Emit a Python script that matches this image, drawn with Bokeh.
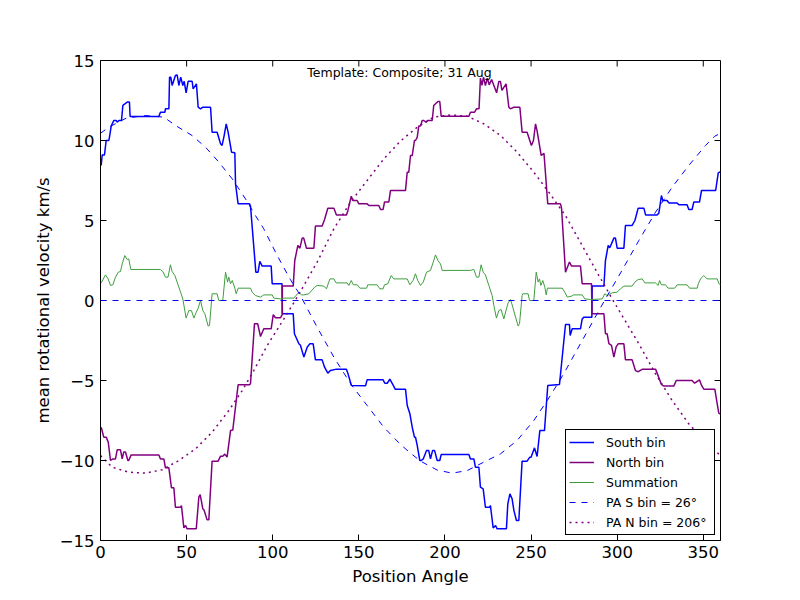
from bokeh.plotting import figure
from bokeh.models import Range1d, FixedTicker, Span, Label, Legend, LegendItem
from bokeh.embed import file_html
from bokeh.resources import INLINE

# ---------------- data ----------------
south_pa = [0.4, 1.0, 2.3, 3.3, 4.8, 5.2, 6.2, 7.7, 9.1, 9.7, 10.7, 12.2, 13.0, 15.5, 16.8, 17.2,
            33.9, 34.8, 37.4, 37.7, 39.7, 40.1, 40.8, 41.6, 43.5, 44.5, 45.5, 46.6, 47.8, 48.6,
            49.7, 50.9, 53.2, 53.8, 55.7, 56.7, 58.1, 59.4, 63.9, 64.8, 67.7, 69.7, 70.6, 71.8,
            73.0, 74.1, 76.1, 78.0, 78.4, 79.9, 86.5, 87.1, 90.2, 91.5, 92.5, 93.9, 99.1, 99.7,
            105.4, 105.6, 111.9, 112.6, 115.2, 116.1, 118.1, 120.0, 121.5, 123.5, 124.8, 128.7,
            130.1, 132.0, 133.5, 137.0, 142.8, 143.6, 145.7, 153.9, 154.8, 164.1, 165.1, 166.5,
            168.0, 170.0, 171.1, 177.1, 178.1, 179.6, 181.0, 182.3, 182.9, 183.9, 185.4, 186.2,
            187.4, 189.3, 190.6, 191.6, 192.8, 194.0, 195.5, 197.0, 197.8, 213.9, 214.8, 216.8,
            217.7, 219.7, 220.6, 222.2, 223.5, 226.0, 226.4, 228.0, 229.4, 230.3, 235.7, 236.5,
            237.7, 239.0, 240.0, 241.5, 242.9, 244.8, 247.7, 249.3, 250.0, 252.0, 253.5, 255.1,
            257.8, 259.7, 266.5, 270.0, 272.3, 272.7, 273.9, 278.7, 279.7, 280.6, 285.3, 285.5,
            292.3, 293.2, 294.8, 295.7, 298.1, 299.0, 300.0, 303.9, 304.8, 308.7, 310.3, 312.2,
            315.5, 316.5, 323.2, 324.2, 325.7, 326.5, 329.0, 330.0, 334.8, 335.8, 340.6, 341.6,
            343.5, 344.5, 347.8, 349.0, 357.2, 358.7, 360.0]
south_vel = [8.44, 9.1, 9.1, 10.0, 10.0, 10.2, 10.9, 11.25, 11.25, 11.15, 11.25, 11.25, 12.2, 12.4, 12.4, 11.5,
             11.5, 11.77, 11.77, 11.98, 11.98, 13.96, 13.96, 13.44, 14.06, 14.1, 13.44, 13.96, 13.44, 13.7,
             12.98, 13.7, 13.7, 13.23, 13.54, 12.08, 11.98, 12.08, 12.08, 10.52, 10.52, 9.8, 9.69, 10.31,
             11.04, 10.52, 9.27, 9.23, 7.29, 6.04, 6.04, 5.9, 1.77, 1.77, 2.44, 2.15, 2.15, 1.04,
             1.04, -0.83, -0.83, -2.08, -2.7, -2.8, -3.54, -2.92, -2.71, -2.71, -3.71, -3.71,
             -4.17, -4.54, -4.38, -4.29, -4.29, -4.54, -5.31, -5.33, -4.96, -4.96, -5.17, -5.17,
             -4.92, -5.31, -5.54, -5.54, -6.56, -7.06, -7.92, -8.54, -8.54, -9.06, -10.0, -10.0,
             -9.9, -9.38, -9.38, -9.9, -9.38, -9.38, -10.0, -10.0, -9.63, -9.63, -9.9, -9.9,
             -10.42, -10.42, -11.67, -11.77, -12.92, -12.92, -12.81, -14.21, -14.06, -14.27, -14.27, -12.71,
             -12.08, -12.4, -13.1, -13.75, -13.75, -10.04, -10.04, -9.79, -9.79, -9.21, -9.75, -8.13,
             -8.13, -5.31, -5.25, -1.5, -1.5, -2.19, -1.77, -1.77, -1.15, -1.04, -1.04, 0.9,
             0.9, 2.5, 3.44, 3.3, 3.9, 3.9, 3.27, 3.27, 4.69, 4.69, 5.0, 5.77,
             5.77, 5.35, 5.35, 5.46, 6.56, 6.25, 6.25, 6.1, 6.1, 5.98, 5.98, 5.69,
             5.69, 6.15, 6.15, 6.88, 6.88, 7.98, 8.05]

north_pa = [0.4, 1.9, 3.3, 4.5, 5.8, 7.2, 8.7, 9.7, 11.6, 12.6, 13.5, 14.5, 15.9, 16.4, 17.8, 33.9,
            34.8, 36.8, 37.7, 39.7, 41.2, 42.6, 43.5, 46.5, 47.0, 48.4, 49.4, 50.3, 55.6, 57.1,
            57.9, 59.4, 60.1, 61.9, 62.9, 64.8, 68.3, 69.7, 71.0, 72.2, 73.5, 75.5, 76.8, 79.9,
            86.5, 87.1, 89.4, 91.3, 92.9, 94.8, 99.1, 100.3, 101.6, 104.5, 105.5, 105.6, 111.9,
            112.8, 114.6, 115.8, 117.1, 118.0, 119.6, 123.9, 124.8, 128.7, 130.1, 132.0, 135.5,
            137.0, 142.8, 143.6, 145.6, 146.5, 149.0, 150.0, 154.8, 155.8, 161.6, 162.6, 164.1,
            164.9, 167.4, 168.4, 177.1, 178.1, 179.0, 180.0, 181.0, 182.3, 182.9, 183.9, 184.8,
            185.8, 186.8, 187.7, 189.0, 190.0, 192.6, 193.5, 195.9, 197.0, 197.8, 213.9, 214.8,
            217.2, 218.3, 219.8, 220.6, 221.5, 222.4, 223.5, 224.6, 225.7, 227.1, 230.0, 231.3,
            232.2, 233.1, 235.5, 237.1, 238.0, 240.0, 243.5, 244.8, 247.7, 250.2, 251.4, 252.6,
            253.5, 255.9, 257.5, 259.7, 267.1, 267.7, 270.0, 272.3, 273.5, 278.7, 279.7, 285.1,
            285.4, 292.3, 293.2, 294.2, 295.2, 296.7, 298.1, 299.4, 300.6, 303.9, 304.8, 308.7,
            310.6, 312.2, 314.8, 322.3, 323.2, 325.7, 327.1, 332.9, 334.3, 343.5, 345.0, 347.8,
            349.0, 350.3, 356.7, 358.1, 359.0, 360.0]
north_vel = [-7.92, -8.54, -8.54, -8.85, -10.0, -9.9, -9.9, -9.33, -9.33, -9.9, -9.47, -9.47, -10.0, -10.0, -9.65, -9.65,
             -9.9, -9.9, -10.46, -10.46, -11.71, -11.71, -12.92, -12.92, -12.81, -14.21, -14.06, -14.27, -14.27, -12.29,
             -12.13, -13.02, -13.1, -13.71, -13.71, -10.04, -10.04, -9.73, -9.73, -9.6, -9.79, -8.13, -8.1, -5.27,
             -5.27, -5.2, -1.46, -1.46, -2.25, -1.77, -1.77, -0.88, -1.08, -1.08, -0.88, 0.9, 0.9,
             2.5, 3.44, 3.27, 3.9, 3.9, 3.27, 3.27, 4.65, 4.65, 5.06, 5.77, 5.77,
             5.35, 5.35, 5.6, 6.52, 6.25, 6.25, 6.04, 6.04, 5.94, 5.94, 5.69, 5.69,
             6.15, 6.15, 6.88, 6.88, 8.02, 8.02, 9.06, 9.06, 10.0, 10.0, 10.2, 10.9,
             10.9, 11.25, 11.25, 11.15, 11.25, 11.25, 12.19, 12.44, 12.44, 11.52, 11.52, 11.77,
             11.77, 11.98, 11.98, 13.9, 13.44, 13.96, 13.44, 13.9, 13.48, 13.81, 12.98, 13.69,
             13.69, 13.13, 13.54, 12.08, 11.98, 12.08, 12.08, 10.52, 10.52, 9.69, 10.0, 11.04,
             10.6, 9.06, 9.2, 6.04, 6.04, 5.77, 1.77, 2.4, 2.15, 2.15, 1.04, 1.04,
             -0.83, -0.83, -2.08, -2.08, -2.7, -2.8, -3.54, -2.9, -2.71, -2.71, -3.71, -3.71,
             -4.38, -4.45, -4.29, -4.29, -4.54, -5.25, -5.35, -5.35, -5.0, -5.0, -5.17, -4.96,
             -5.31, -5.54, -5.54, -6.46, -7.04, -7.1]

sum_pa = [0.4, 2.9, 4.45, 5.8, 7.2, 8.7, 10.3, 11.6, 12.6, 14.1, 15.5, 16.4, 17.6, 34.8, 36.2, 37.7,
          39.2, 40.6, 41.6, 43.2, 44.5, 46.5, 47.8, 49.7, 51.3, 52.8, 54.2, 55.6, 56.7, 58.1, 59.4,
          60.6, 62.5, 63.3, 64.8, 67.7, 68.7, 71.0, 72.6, 73.8, 74.5, 75.5, 76.5, 78.0, 78.8, 79.9,
          87.1, 88.1, 90.0, 92.9, 94.8, 99.7, 100.6, 104.5, 106.5, 112.3, 115.2, 116.6, 118.0,
          121.0, 124.3, 125.8, 129.7, 131.2, 133.2, 135.5, 136.8, 143.2, 144.2, 145.6, 146.8,
          149.1, 150.6, 154.5, 155.2, 160.6, 162.2, 164.1, 164.9, 166.8, 168.8, 170.3, 178.1,
          179.6, 181.5, 182.9, 184.2, 185.8, 187.4, 189.3, 191.6, 193.2, 194.5, 195.9, 197.4,
          198.4, 214.8, 216.8, 218.3, 219.7, 221.0, 222.2, 223.5, 225.5, 227.4, 228.4, 229.9,
          231.3, 232.6, 234.2, 235.5, 236.7, 238.1, 239.4, 241.0, 242.5, 243.3, 244.8, 245.2,
          248.3, 249.1, 251.6, 253.0, 254.1, 254.9, 255.7, 256.8, 258.0, 258.8, 259.5, 268.1,
          269.6, 271.0, 273.5, 274.8, 279.7, 281.2, 284.5, 291.3, 292.8, 294.2, 297.1, 300.0,
          301.9, 303.9, 308.7, 310.3, 312.2, 314.5, 316.1, 322.3, 323.8, 324.6, 325.7, 328.1,
          329.6, 333.4, 334.8, 340.6, 342.0, 346.5, 347.1, 348.4, 350.3, 352.2, 358.1, 359.1, 360.0]
sum_vel = [1.1, 1.6, 1.35, 0.94, 0.98, 1.46, 1.77, 1.81, 2.29, 2.81, 2.56, 2.6, 1.94, 1.94, 1.81, 1.46,
           1.46, 2.23, 1.81, 1.56, 1.15, 0.52, 0.1, -1.1, -0.63, -0.63, -1.1, -0.73, -0.48, 0.0, -0.63,
           -0.83, -1.6, -1.56, 0.42, 0.42, 0.0, 0.0, 1.77, 1.15, 1.46, 1.04, 1.25, 0.77, 0.42, 0.77,
           0.77, 0.52, 0.31, 0.21, 0.35, 0.35, 0.15, 0.1, 0.15, 0.15, 0.52, 0.35, 0.35,
           0.42, 0.83, 0.94, 0.9, 0.73, 1.35, 1.35, 1.1, 1.1, 0.94, 1.25, 0.98,
           0.98, 0.77, 0.77, 0.98, 0.98, 0.73, 0.73, 0.98, 1.04, 1.56, 1.35, 1.35,
           0.98, 1.25, 1.67, 1.25, 0.94, 1.15, 1.77, 1.88, 2.4, 2.85, 2.5, 2.29,
           1.88, 1.88, 1.94, 1.46, 1.46, 2.23, 1.77, 1.6, 0.94, 0.31, -0.31, -1.1,
           -0.63, -0.56, -1.15, -0.6, -0.15, 0.06, -0.42, -1.04, -1.6, -1.45, 0.31, 0.42,
           0.42, 0.0, 0.0, 1.77, 1.15, 1.35, 0.94, 1.25, 0.83, 0.35, 0.77, 0.77,
           0.52, 0.21, 0.27, 0.35, 0.35, 0.1, 0.06, 0.1, 0.42, 0.31, 0.48, 0.52,
           0.73, 0.9, 0.9, 1.15, 1.31, 1.35, 1.1, 1.1, 0.94, 1.25, 0.98, 0.98,
           0.77, 0.77, 0.98, 0.98, 0.77, 0.77, 1.04, 1.35, 1.56, 1.35, 1.35, 1.04, 1.0]

pa_s_model_pa = [0.0, 4.8, 15.0, 26.0, 36.8, 43.5, 53.2, 61.0, 68.7, 76.5, 84.2, 90.0, 94.8, 102.6,
                 110.3, 116.1, 125.8, 135.5, 145.2, 154.8, 164.5, 174.2, 179.6, 185.8, 195.5, 204.2,
                 212.9, 222.6, 232.3, 241.9, 251.6, 259.4, 266.1, 270.0, 279.7, 289.4, 293.2, 302.9,
                 312.6, 322.3, 331.9, 341.6, 351.3, 356.7, 360.0]
pa_s_model_vel = [10.45, 10.83, 11.4, 11.56, 11.46, 10.94, 10.31, 9.58, 8.65, 7.6, 6.35, 5.3, 4.48, 2.81,
                  1.3, 0.31, -1.67, -3.54, -5.2, -6.56, -7.92, -9.0, -9.5, -10.04, -10.6, -10.79,
                  -10.63, -10.1, -9.58, -8.75, -7.5, -6.25, -5.1, -4.38, -2.5, -0.63, 0.1, 1.9,
                  3.75, 5.52, 7.08, 8.44, 9.69, 10.27, 10.45]

pa_n_model_pa = [0.0, 6.8, 16.4, 26.1, 35.8, 45.5, 55.2, 64.8, 74.5, 82.3, 89.0, 96.8, 106.5, 114.2,
                 125.8, 135.5, 145.2, 154.8, 164.5, 174.2, 183.9, 193.5, 203.2, 212.9, 222.6, 232.3,
                 241.9, 251.6, 260.3, 270.0, 279.7, 289.4, 297.1, 312.6, 322.3, 331.9, 341.6, 351.3, 360.0]
pa_n_model_vel = [-9.69, -10.42, -10.73, -10.79, -10.58, -10.0, -9.27, -8.23, -6.88, -5.63, -4.38, -2.81, -1.15, 0.21,
                  2.4, 4.48, 6.15, 7.5, 8.85, 9.97, 10.83, 11.46, 11.6, 11.52, 11.04, 10.31,
                  9.27, 8.02, 6.77, 5.3, 3.44, 1.56, 0.1, -2.71, -4.58, -6.25, -7.71, -8.85, -9.69]

x_range_lim = [0, 360]
y_range_lim = [-15, 15]
x_ticks = [0, 50, 100, 150, 200, 250, 300, 350]
y_ticks = [-15, -10, -5, 0, 5, 10, 15]
y_tick_labels = {-15: "\u221215", -10: "\u221210", -5: "\u22125", 0: "0", 5: "5", 10: "10", 15: "15"}

labels = ["South bin", "North bin", "Summation", "PA S bin = 26\u00b0", "PA N bin = 206\u00b0"]
title_text = "Template: Composite; 31 Aug"
x_label = "Position Angle"
y_label = "mean rotational velocity km/s"

FONT = "DejaVu Sans"

# ---------------- figure ----------------
p = figure(width=792, height=592,
           x_range=Range1d(*x_range_lim), y_range=Range1d(*y_range_lim),
           output_backend="svg", toolbar_location=None,
           min_border_left=100, min_border_right=72, min_border_top=60, min_border_bottom=52)
p.background_fill_color = "white"
p.border_fill_color = "white"
p.outline_line_color = "black"
p.outline_line_width = 1
p.outline_line_alpha = 1
p.grid.visible = False

for ax in (p.xaxis[0], p.yaxis[0]):
    ax.major_tick_in = 6
    ax.major_tick_out = 0
    ax.minor_tick_in = 0
    ax.minor_tick_out = 0
    ax.major_tick_line_color = "black"
    ax.axis_line_color = "black"
    ax.major_label_text_font = FONT
    ax.major_label_text_color = "black"
    ax.major_label_text_font_size = "16.5px"
    ax.axis_label_text_font = FONT
    ax.axis_label_text_font_size = "16.5px"
    ax.axis_label_text_font_style = "normal"
    ax.axis_label_text_color = "black"

p.xaxis.ticker = FixedTicker(ticks=x_ticks)
p.yaxis.ticker = FixedTicker(ticks=y_ticks)
p.yaxis.major_label_overrides = y_tick_labels
p.xaxis.axis_label = x_label
p.yaxis.axis_label = y_label
p.xaxis.major_label_standoff = 5
p.yaxis.major_label_standoff = 6
p.xaxis.axis_label_standoff = 6
p.yaxis.axis_label_standoff = 4

# inward ticks on the top and right edges (matplotlib classic look)
p.ray(x=x_ticks, y=[y_range_lim[1]] * len(x_ticks), length=6, length_units="screen",
      angle=-90, angle_units="deg", line_color="black", line_width=1)
p.ray(x=[x_range_lim[1]] * len(y_ticks), y=y_ticks, length=6, length_units="screen",
      angle=180, angle_units="deg", line_color="black", line_width=1)

# ---------------- glyphs ----------------
r_s = p.line(south_pa, south_vel, line_color="#0000ff", line_width=1.5)
r_n = p.line(north_pa, north_vel, line_color="#800080", line_width=1.5)
r_sum = p.line(sum_pa, sum_vel, line_color="#3e9e3e", line_width=1.0)
r_ms = p.line(pa_s_model_pa, pa_s_model_vel, line_color="#0000ff", line_width=1.0, line_dash="6 6")
r_mn = p.line(pa_n_model_pa, pa_n_model_vel, line_color="#800080", line_width=1.5, line_dash="2 4")

p.add_layout(Span(location=0, dimension="width", line_color="#0000ff", line_width=1.0, line_dash="6 6"))

p.add_layout(Label(x=173.6, y=14.25, text=title_text, text_font=FONT, text_font_size="12.5px",
                   text_align="center", text_baseline="middle", text_color="black"))

legend = Legend(items=[LegendItem(label=labels[0], renderers=[r_s]),
                       LegendItem(label=labels[1], renderers=[r_n]),
                       LegendItem(label=labels[2], renderers=[r_sum]),
                       LegendItem(label=labels[3], renderers=[r_ms]),
                       LegendItem(label=labels[4], renderers=[r_mn])],
                location="bottom_right", margin=5, padding=3, spacing=2,
                glyph_width=25, glyph_height=18, label_height=18, label_width=105,
                label_standoff=12,
                label_text_font=FONT, label_text_font_size="12.5px", label_text_color="black",
                border_line_color="black", border_line_width=1, border_line_alpha=1,
                background_fill_color="white", background_fill_alpha=1)
p.add_layout(legend, "center")

open("out.html", "w").write(file_html(p, INLINE))
